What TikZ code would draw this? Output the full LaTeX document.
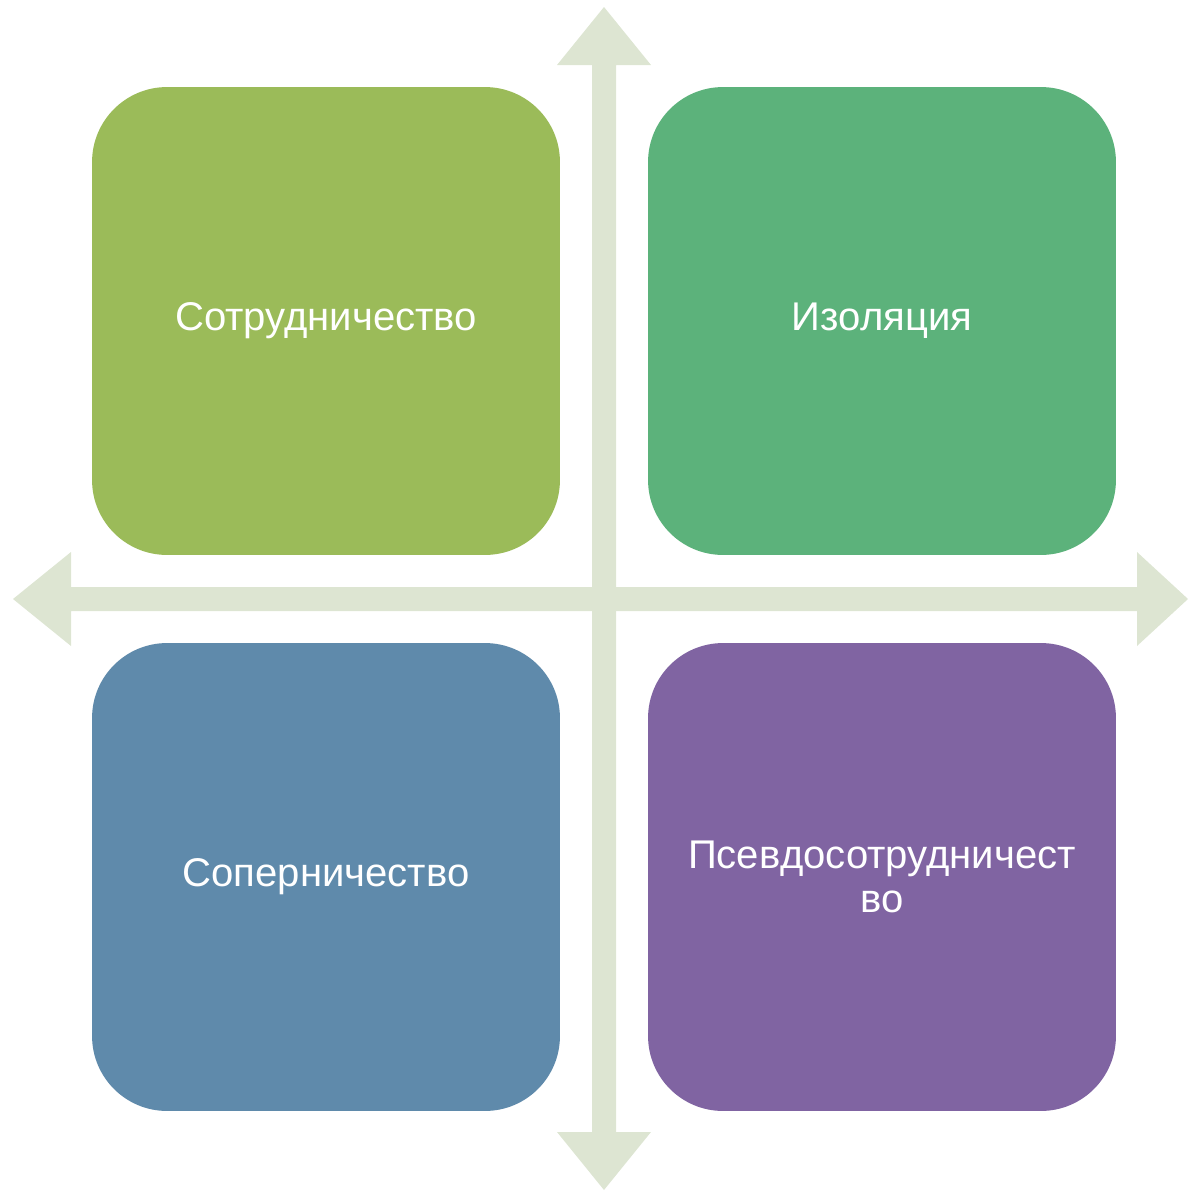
\documentclass[tikz,border=0pt]{standalone}
\usepackage{fontspec}
\setmainfont{Liberation Sans}
\usepackage{xcolor}
\usepackage{tikz}

\definecolor{axisgray}{HTML}{DDE5D2}
\definecolor{oliveg}{HTML}{9BBB59}
\definecolor{seag}{HTML}{5CB27B}
\definecolor{steelb}{HTML}{5F8AAB}
\definecolor{plum}{HTML}{8064A2}

\tikzset{
    quad/.style={rounded corners=1.5cm, minimum width=9.36cm, minimum height=9.36cm,
        text width=9cm, align=center, text=white, inner sep=0pt,
        font=\fontsize{22.8}{25.5}\selectfont},
    axis/.style={fill=axisgray, draw=none}
}

\begin{document}
\begin{tikzpicture}[x=0.02cm, y=-0.02cm]
            \useasboundingbox (0, 0) rectangle (1188, 1191);

            % vertical axis
            \fill[axis] (592, 65) -- (557, 65) -- (604, 7) -- (651, 65) -- (616, 65)
                -- (616, 1132) -- (651, 1132) -- (604, 1190) -- (557, 1132) -- (592, 1132) -- cycle;
            % horizontal axis
            \fill[axis] (71, 587) -- (71, 552) -- (13, 599) -- (71, 646) -- (71, 611)
                -- (1137, 611) -- (1137, 646) -- (1188, 599) -- (1137, 552) -- (1137, 587) -- cycle;

            \node[quad, fill=oliveg] (coop) at (326, 321) {Сотрудничество};
            \node[quad, fill=seag] (isol) at (882, 321) {Изоляция};
            \node[quad, fill=steelb] (rival) at (326, 877) {Соперничество};
            \node[quad, fill=plum] (pseudo) at (882, 877) {Псевдосотрудничест\\во};
        \end{tikzpicture}
\end{document}
